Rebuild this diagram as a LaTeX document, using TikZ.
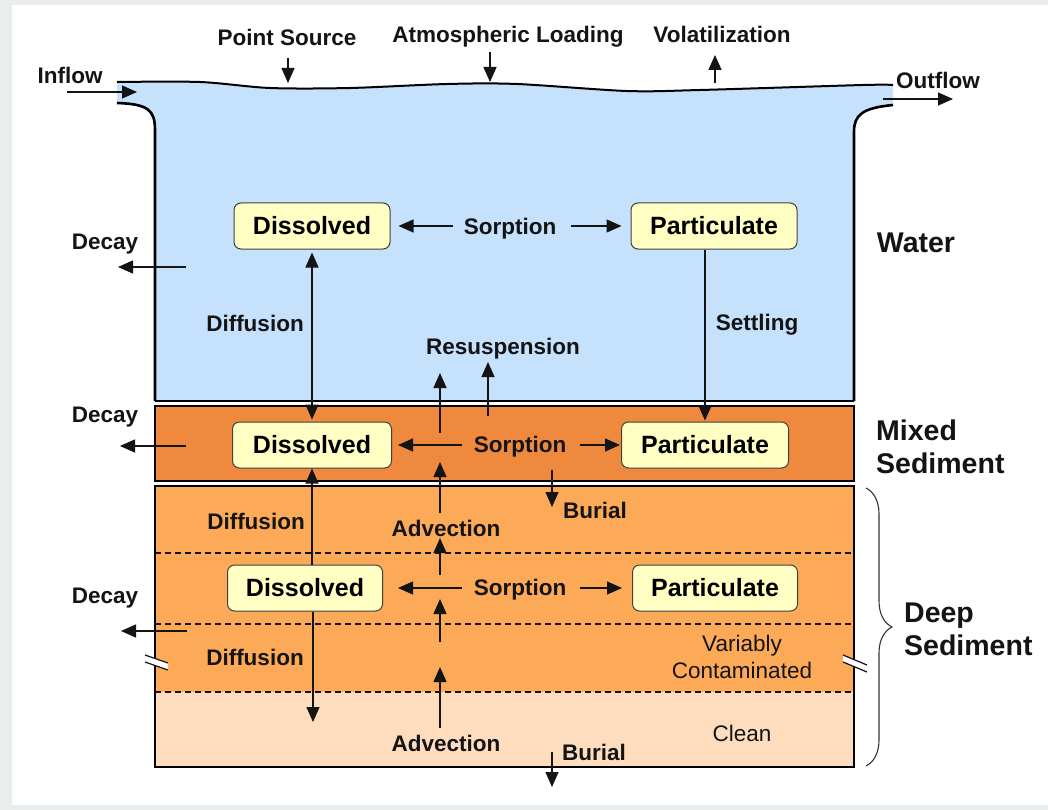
\documentclass[tikz,border=0pt]{standalone}
\usepackage{fontspec}
\setmainfont{Liberation Sans}
\usetikzlibrary{arrows.meta,decorations.pathreplacing}

\definecolor{waterblue}{RGB}{197,225,251}
\definecolor{mixedorange}{RGB}{239,137,62}
\definecolor{deeporange}{RGB}{252,170,88}
\definecolor{cleanpeach}{RGB}{253,221,190}
\definecolor{boxyellow}{RGB}{255,255,196}
\definecolor{inkgrey}{RGB}{20,20,20}
\definecolor{pagegrey}{RGB}{234,237,237}

\begin{document}
\begin{tikzpicture}[x=1pt, y=-1pt,
  lbl/.style={font=\fontsize{22.5}{26}\selectfont\bfseries, inner sep=0pt, text=inkgrey},
  plain/.style={font=\fontsize{22.5}{27}\selectfont, inner sep=0pt, align=center, text=inkgrey},
  layer/.style={font=\fontsize{28.5}{33}\selectfont\bfseries, inner sep=0pt, align=left, text=inkgrey},
  species/.style={draw=black!75, line width=1pt, fill=boxyellow, rounded corners=7pt, minimum height=46pt, inner sep=0pt, font=\fontsize{25}{30}\selectfont\bfseries},
  flux/.style={-{Triangle[length=15pt,width=13pt]}, line width=1.3pt, draw=inkgrey},
  exchange/.style={flux, {Triangle[length=15pt,width=13pt]}-{Triangle[length=15pt,width=13pt]}},
  wall/.style={line width=2.6pt, draw=black},
  sublayer/.style={dash pattern=on 6pt off 4pt, line width=1.4pt, draw=inkgrey},
  breakmark/.style={line width=1.2pt, draw=inkgrey}]
\useasboundingbox (0,0) rectangle (1048,810);
\fill[pagegrey] (0,0) rectangle (1048,810);
\fill[white] (12,5) rectangle (1048,805);

% water column
\fill[waterblue] plot[smooth, tension=0.5] coordinates {(117,82) (200,82) (270,88) (350,88) (447,84) (517,84) (627,91) (700,90) (863,85) (893,85)}
  -- (893,105) .. controls (862,108) and (854,115) .. (854,132) -- (854,401) -- (155,401) -- (155,130)
  .. controls (155,110) and (148,104) .. (117,103) -- cycle;
\draw[line width=2pt] plot[smooth, tension=0.5] coordinates {(117,82) (200,82) (270,88) (350,88) (447,84) (517,84) (627,91) (700,90) (863,85) (893,85)};
\draw[wall] (117,103) .. controls (148,104) and (155,110) .. (155,130) -- (155,401);
\draw[wall] (893,105) .. controls (862,108) and (854,115) .. (854,132) -- (854,401);
\draw[line width=2pt] (155,401) -- (854,401);

% sediment layers
\fill[mixedorange] (155,406) rectangle (854,481);
\draw[wall] (155,406) rectangle (854,481);
\fill[deeporange] (155,486) rectangle (854,692);
\fill[cleanpeach] (155,692) rectangle (854,767);
\draw[sublayer] (155,553) -- (854,553);
\draw[sublayer] (155,624) -- (854,624);
\draw[sublayer] (155,692) -- (854,692);
\draw[wall] (155,486) rectangle (854,767);

% break marks
\fill[white] (145,655) -- (168,663) -- (168,670) -- (145,662) -- cycle;
\draw[breakmark] (145,655) -- (168,663);
\draw[breakmark] (145,662) -- (168,670);
\fill[white] (843,655) -- (867,665) -- (867,672) -- (843,662) -- cycle;
\draw[breakmark] (843,655) -- (867,665);
\draw[breakmark] (843,662) -- (867,672);

% boundary fluxes
\node[lbl] (inflow) at (70,75) {Inflow};
\node[lbl] (outflow) at (938,80) {Outflow};
\node[lbl] (ptsrc) at (287,37) {Point Source};
\node[lbl] (atmos) at (508,37) {Atmospheric Loading};
\node[lbl] (volat) at (722,34) {Volatilization};
\coordinate (inA) at (67,92);
\coordinate (inB) at (137,92);
\coordinate (outA) at (883,99);
\coordinate (outB) at (953,99);
\coordinate (ptA) at (288,58);
\coordinate (ptB) at (288,83);
\coordinate (atA) at (490,52);
\coordinate (atB) at (490,82);
\coordinate (voA) at (715,83);
\coordinate (voB) at (715,55);
\draw[flux] (inA) -- (inB);
\draw[flux] (outA) -- (outB);
\draw[flux] (ptA) -- (ptB);
\draw[flux] (atA) -- (atB);
\draw[flux] (voA) -- (voB);

% water
\node[species, minimum width=156pt] (dissW) at (312,226) {Dissolved};
\node[species, minimum width=166pt] (partW) at (714,226) {Particulate};
\node[lbl] (sorpW) at (510,229) {Sorption};
\draw[flux, shorten <=11pt, shorten >=8pt] (sorpW.west |- dissW) -- (dissW.east);
\draw[flux, shorten <=15pt, shorten >=9pt] (sorpW.east |- partW) -- (partW.west);
\node[lbl] (decayW) at (105,244) {Decay};
\coordinate (decWa) at (186,267);
\coordinate (decWb) at (118,267);
\draw[flux] (decWa) -- (decWb);
\node[lbl] (diffW) at (255,323) {Diffusion};
\node[lbl] (settle) at (757,325) {Settling};
\node[lbl] (resusp) at (503,349) {Resuspension};
\node[layer] (water) at (916,243) {Water};

% mixed sediment
\node[species, minimum width=159pt] (dissM) at (312,445) {Dissolved};
\node[species, minimum width=167pt] (partM) at (705,445) {Particulate};
\node[lbl] (sorpM) at (520,447) {Sorption};
\draw[flux, shorten <=12pt, shorten >=6pt] (sorpM.west |- dissM) -- (dissM.east);
\draw[flux, shorten <=14pt, shorten >=1pt] (sorpM.east |- partM) -- (partM.west);
\draw[exchange, shorten <=3pt, shorten >=2pt] (dissW) -- (dissM);
\draw[flux, shorten >=1pt] (partW.south -| partM.north) -- (partM.north);
\coordinate (resA1) at (440,433);
\coordinate (resA2) at (440,373);
\coordinate (resB1) at (488,416);
\coordinate (resB2) at (488,362);
\draw[flux] (resA1) -- (resA2);
\draw[flux] (resB1) -- (resB2);
\node[lbl] (decayM) at (105,417) {Decay};
\coordinate (decMa) at (186,446);
\coordinate (decMb) at (120,446);
\draw[flux] (decMa) -- (decMb);
\node[lbl] (burialM) at (595,510) {Burial};
\coordinate (burMa) at (552,470);
\coordinate (burMb) at (552,507);
\draw[flux] (burMa) -- (burMb);
\node[layer, anchor=west] (mixed) at (876,447) {Mixed\\Sediment};

% deep sediment
\node[species, minimum width=155pt] (dissD) at (305,588) {Dissolved};
\node[species, minimum width=165pt] (partD) at (715,588) {Particulate};
\node[lbl] (sorpD) at (520,590) {Sorption};
\draw[flux, shorten <=12pt, shorten >=15pt] (sorpD.west |- dissD) -- (dissD.east);
\draw[flux, shorten <=14pt, shorten >=10pt] (sorpD.east |- partD) -- (partD.west);
\coordinate (diffEnd) at (313,722);
\draw[flux] (dissD.north -| dissM.south) -- (dissM.south);
\draw[flux] (dissD.south -| diffEnd) -- (diffEnd);
\node[lbl] (diffD1) at (256,521) {Diffusion};
\node[lbl] (diffD2) at (255,657) {Diffusion};
\node[lbl] (advU) at (446,528) {Advection};
\node[lbl] (advL) at (446,743) {Advection};
\coordinate (adv1a) at (440,513);
\coordinate (adv1b) at (440,462);
\coordinate (adv2a) at (440,575);
\coordinate (adv2b) at (440,538);
\coordinate (adv3a) at (440,642);
\coordinate (adv3b) at (440,599);
\coordinate (adv4a) at (440,728);
\coordinate (adv4b) at (440,667);
\draw[flux] (adv1a) -- (adv1b);
\draw[flux] (adv2a) -- (adv2b);
\draw[flux] (adv3a) -- (adv3b);
\draw[flux] (adv4a) -- (adv4b);
\node[lbl] (decayD) at (105,598) {Decay};
\coordinate (decDa) at (187,631);
\coordinate (decDb) at (121,631);
\draw[flux] (decDa) -- (decDb);
\node[plain] (variably) at (742,657) {Variably\\Contaminated};
\node[plain] (clean) at (742,733) {Clean};
\node[lbl] (burialD) at (594,752) {Burial};
\coordinate (burDa) at (552,752);
\coordinate (burDb) at (552,787);
\draw[flux] (burDa) -- (burDb);
\draw[line width=1.1pt, draw=black!80, decorate, decoration={brace, amplitude=26pt}] (866,488) -- (866,766);
\node[layer, anchor=west] (deep) at (904,629) {Deep\\Sediment};
\end{tikzpicture}
\end{document}
